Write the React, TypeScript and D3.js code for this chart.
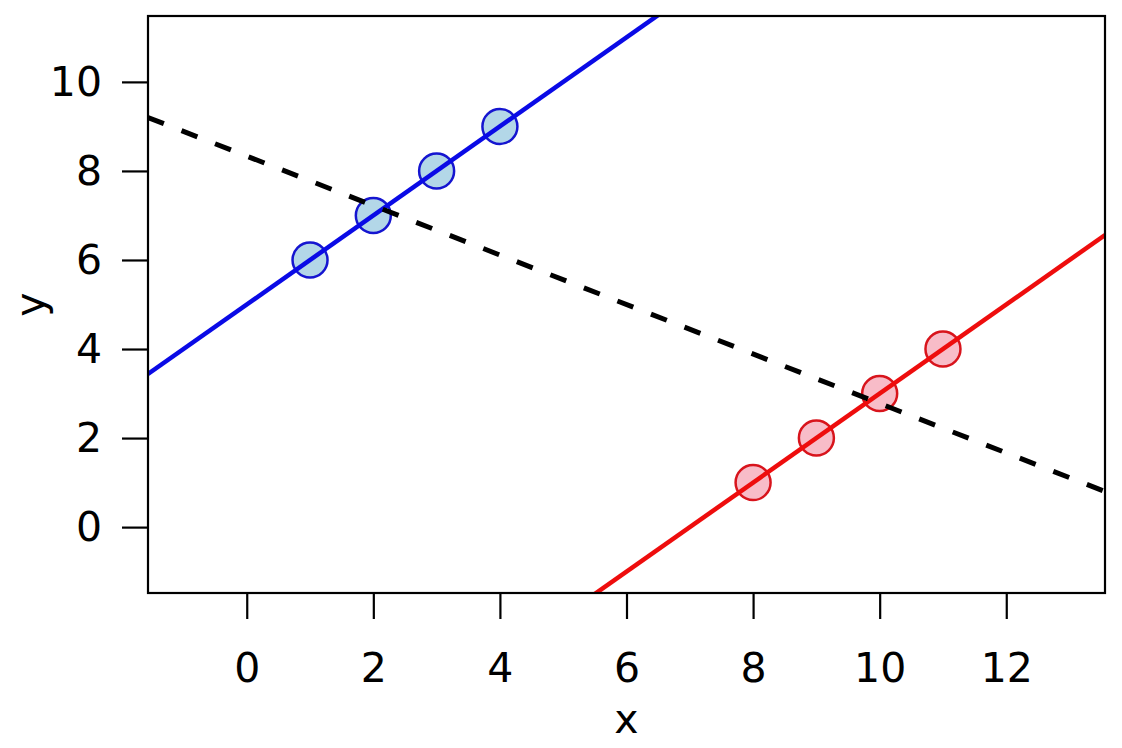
import { useEffect, useRef } from 'react';
import * as d3 from 'd3';

// two groups that each trend upward, while the pooled fit trends downward
const blueX = [1, 2, 3, 4];
const blueY = [6, 7, 8, 9];
const redX = [8, 9, 10, 11];
const redY = [1, 2, 3, 4];
const xTicks = [0, 2, 4, 6, 8, 10, 12];
const yTicks = [0, 2, 4, 6, 8, 10];

const W = 1122;
const H = 748;

function fit(xs: number[], ys: number[]) {
  const mx = d3.mean(xs) ?? 0;
  const my = d3.mean(ys) ?? 0;
  const sxy = d3.sum(xs, (x, i) => (x - mx) * (ys[i] - my));
  const sxx = d3.sum(xs, (x) => (x - mx) ** 2);
  const b = sxy / sxx;
  return { a: my - b * mx, b };
}

export default function App() {
  const svgRef = useRef<SVGSVGElement>(null);

  useEffect(() => {
    if (!svgRef.current) return;
    const svg = d3.select(svgRef.current);
    svg.selectAll('*').remove();

    const margin = { top: 16, right: 17, bottom: 155, left: 148 };
    const innerW = W - margin.left - margin.right;
    const innerH = H - margin.top - margin.bottom;

    // R-style 4% expansion of the limits
    const xLim = [-1, 13];
    const yLim = [-1, 11];
    const xPad = (xLim[1] - xLim[0]) * 0.04;
    const yPad = (yLim[1] - yLim[0]) * 0.04;
    const x = d3.scaleLinear().domain([xLim[0] - xPad, xLim[1] + xPad]).range([0, innerW]);
    const y = d3.scaleLinear().domain([yLim[0] - yPad, yLim[1] + yPad]).range([innerH, 0]);

    svg.append('defs').append('clipPath').attr('id', 'plot-clip')
      .append('rect').attr('width', innerW).attr('height', innerH);

    const g = svg.append('g').attr('transform', `translate(${margin.left},${margin.top})`);
    const font = 'DejaVu Sans, sans-serif';

    const plot = g.append('g').attr('clip-path', 'url(#plot-clip)');

    const groups = [
      { xs: blueX, ys: blueY, fill: '#b3d7e8', stroke: '#1515d0', line: '#0a0ae6' },
      { xs: redX, ys: redY, fill: '#f8bcc8', stroke: '#d8141c', line: '#ee0d0d' },
    ];

    groups.forEach((grp) => {
      plot.selectAll(null)
        .data(grp.xs)
        .enter()
        .append('circle')
        .attr('cx', (d) => x(d))
        .attr('cy', (_d, i) => y(grp.ys[i]))
        .attr('r', 17.5)
        .attr('fill', grp.fill)
        .attr('stroke', grp.stroke)
        .attr('stroke-width', 2.5);
    });

    const [x0, x1] = x.domain();

    groups.forEach((grp) => {
      const { a, b } = fit(grp.xs, grp.ys);
      plot.append('path')
        .attr('d', d3.line<number>().x((d) => x(d)).y((d) => y(a + b * d))([x0, x1]))
        .attr('fill', 'none')
        .attr('stroke', grp.line)
        .attr('stroke-width', 4.5);
    });

    const pooled = fit([...blueX, ...redX], [...blueY, ...redY]);
    plot.append('path')
      .attr('d', d3.line<number>().x((d) => x(d)).y((d) => y(pooled.a + pooled.b * d))([x0, x1]))
      .attr('fill', 'none')
      .attr('stroke', '#000')
      .attr('stroke-width', 5)
      .attr('stroke-dasharray', '17 19');

    g.append('rect')
      .attr('width', innerW)
      .attr('height', innerH)
      .attr('fill', 'none')
      .attr('stroke', '#000')
      .attr('stroke-width', 2.2);

    const xAxis = g.append('g')
      .attr('transform', `translate(0,${innerH})`)
      .call(d3.axisBottom(x).tickValues(xTicks).tickSize(26).tickPadding(34).tickFormat(d3.format('d')));
    const yAxis = g.append('g')
      .call(d3.axisLeft(y).tickValues(yTicks).tickSize(26).tickPadding(20).tickFormat(d3.format('d')));

    [xAxis, yAxis].forEach((ax) => {
      ax.select('.domain').remove();
      ax.selectAll('.tick line').attr('stroke', '#000').attr('stroke-width', 2.2);
      ax.selectAll('.tick text')
        .attr('fill', '#000')
        .attr('font-family', font)
        .attr('font-size', 41);
    });

    g.append('text')
      .attr('x', innerW / 2)
      .attr('y', innerH + 140)
      .attr('text-anchor', 'middle')
      .attr('font-family', font)
      .attr('font-size', 41)
      .text('x');

    g.append('text')
      .attr('transform', `translate(${-margin.left + 44},${innerH / 2}) rotate(-90)`)
      .attr('text-anchor', 'middle')
      .attr('font-family', font)
      .attr('font-size', 41)
      .text('y');
  }, []);

  return (
    <svg
      ref={svgRef}
      width={W}
      height={H}
      style={{ position: 'fixed', left: 0, top: 0, background: '#fff' }}
    />
  );
}
